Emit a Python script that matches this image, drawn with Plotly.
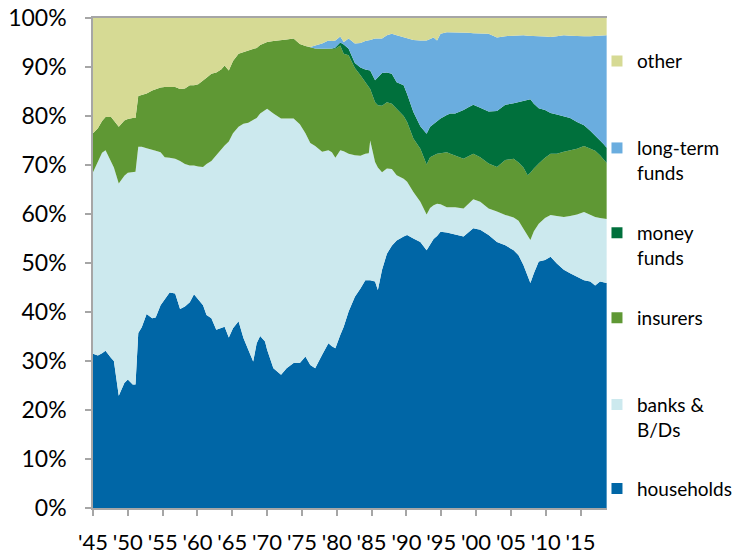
import plotly.graph_objects as go
import numpy as np

# Quarter-ish sample points (year fractions)
years = [1945.0, 1945.7, 1946.3, 1946.8, 1947.6, 1948.0, 1948.7, 1949.5, 1950.0, 1950.7,
         1951.1, 1951.5, 1952.0, 1952.7, 1953.5, 1954.0, 1954.7, 1955.3, 1956.0, 1956.8,
         1957.5, 1958.2, 1958.9, 1959.5, 1960.1, 1960.8, 1961.3, 1962.0, 1962.7, 1963.4,
         1963.9, 1964.5, 1965.1, 1965.9, 1966.6, 1967.3, 1968.0, 1968.5, 1969.0, 1969.7,
         1970.0, 1970.9, 1972.0, 1972.8, 1973.8, 1974.7, 1975.5, 1976.2, 1976.9, 1977.9,
         1978.8, 1979.3, 1979.8, 1980.5, 1981.0, 1981.7, 1982.6, 1983.4, 1984.1, 1984.6,
         1984.8, 1985.5, 1985.9, 1986.5, 1987.2, 1987.9, 1988.6, 1989.6, 1990.1, 1991.0,
         1992.0, 1992.9, 1993.4, 1993.9, 1994.4, 1994.9, 1995.8, 1996.3, 1997.0, 1998.2,
         1998.9, 1999.6, 2000.6, 2001.8, 2003.0, 2004.2, 2005.4, 2006.1, 2006.8, 2007.4,
         2007.8, 2008.3, 2009.0, 2009.9, 2010.7, 2011.6, 2012.6, 2013.5, 2014.5, 2015.5,
         2016.4, 2017.1, 2017.8, 2018.3, 2018.75]

# Upper edge (cumulative %) of each band, bottom to top
households_top = [31.5, 31.1, 31.6, 32.1, 30.6, 30.0, 22.9, 25.5, 26.2, 25.2,
                  25.2, 35.7, 36.9, 39.6, 38.7, 38.9, 41.4, 42.5, 44.0, 43.8,
                  40.6, 41.1, 42.0, 43.6, 42.5, 41.4, 39.4, 38.7, 36.4, 36.7,
                  37.0, 34.8, 36.7, 38.1, 34.7, 32.3, 29.9, 33.6, 35.1, 34.0,
                  32.3, 28.5, 27.2, 28.5, 29.6, 29.6, 30.9, 29.2, 28.5, 31.3,
                  33.6, 33.0, 32.6, 35.3, 37.0, 40.1, 43.1, 44.8, 46.5, 46.5,
                  46.5, 46.2, 44.5, 48.6, 51.9, 53.5, 54.6, 55.4, 55.7, 55.0,
                  54.3, 52.6, 53.8, 54.9, 55.5, 56.4, 56.2, 56.0, 55.8, 55.4,
                  56.3, 57.1, 56.8, 55.7, 54.3, 53.6, 52.6, 51.6, 49.6, 47.2,
                  45.9, 47.9, 50.3, 50.6, 51.3, 49.9, 48.6, 47.9, 47.2, 46.5,
                  46.2, 45.4, 46.2, 46.0, 45.9]

banks_top = [68.5, 70.5, 72.5, 73.0, 70.6, 69.5, 66.2, 67.8, 68.4, 68.6,
             68.6, 73.7, 73.7, 73.4, 73.0, 72.9, 72.6, 71.6, 71.5, 71.3,
             70.8, 70.2, 69.9, 69.9, 69.7, 69.6, 70.2, 70.8, 72.0, 73.3,
             74.0, 74.8, 76.5, 77.8, 78.4, 78.6, 79.1, 79.6, 80.5, 81.2,
             81.5, 80.5, 79.5, 79.5, 79.5, 78.3, 76.5, 74.5, 73.9, 72.7,
             73.0, 72.6, 71.5, 73.0, 72.8, 72.3, 72.0, 71.9, 72.3, 72.4,
             75.0, 70.6, 69.5, 68.5, 69.3, 69.2, 67.9, 67.2, 66.6, 64.5,
             62.5, 59.9, 61.2, 61.8, 62.1, 62.0, 61.4, 61.4, 61.4, 61.1,
             62.0, 63.0, 62.5, 61.1, 60.5, 59.8, 59.3, 58.6, 57.0, 55.6,
             54.7, 56.5, 58.0, 59.2, 59.8, 59.6, 59.4, 59.6, 59.9, 60.4,
             59.8, 59.4, 59.2, 59.1, 59.0]

insurers_top = [76.5, 77.5, 79.0, 79.8, 79.8, 79.0, 77.8, 79.1, 79.4, 79.6,
                79.6, 84.1, 84.3, 84.6, 85.2, 85.5, 85.8, 85.9, 85.9, 85.9,
                85.5, 85.6, 86.3, 86.3, 86.5, 87.2, 87.8, 88.6, 88.9, 89.5,
                90.3, 89.3, 91.2, 92.7, 93.0, 93.4, 93.6, 93.9, 94.5, 95.0,
                95.1, 95.3, 95.4, 95.6, 95.8, 94.7, 94.3, 94.1, 93.8, 93.7,
                93.7, 93.7, 93.7, 94.4, 92.7, 92.4, 89.8, 88.3, 87.0, 86.0,
                85.5, 82.8, 82.2, 82.1, 82.8, 82.5, 81.5, 80.0, 78.8, 75.4,
                73.3, 70.1, 71.6, 72.0, 72.3, 72.4, 72.6, 72.3, 71.9, 71.3,
                71.8, 72.3, 71.6, 70.3, 69.6, 71.0, 71.3, 70.5, 69.5, 67.9,
                68.4, 69.3, 70.3, 71.5, 72.3, 72.3, 72.7, 73.0, 73.3, 73.9,
                73.4, 72.9, 72.0, 71.2, 70.4]

money_funds_top = [76.5, 77.5, 79.0, 79.8, 79.8, 79.0, 77.8, 79.1, 79.4, 79.6,
                   79.6, 84.1, 84.3, 84.6, 85.2, 85.5, 85.8, 85.9, 85.9, 85.9,
                   85.5, 85.6, 86.3, 86.3, 86.5, 87.2, 87.8, 88.6, 88.9, 89.5,
                   90.3, 89.3, 91.2, 92.7, 93.0, 93.4, 93.6, 93.9, 94.5, 95.0,
                   95.1, 95.3, 95.4, 95.6, 95.8, 94.7, 94.3, 94.1, 93.8, 93.7,
                   93.7, 93.8, 94.0, 95.0, 94.6, 93.7, 90.8, 89.9, 89.5, 89.3,
                   89.3, 87.3, 87.9, 88.8, 88.9, 88.6, 86.9, 86.3, 84.5, 80.8,
                   77.9, 76.4, 77.8, 78.4, 78.9, 79.5, 80.2, 80.5, 80.5, 81.2,
                   81.8, 82.3, 81.7, 80.9, 81.0, 82.3, 82.6, 82.8, 83.0, 83.2,
                   83.4, 82.5, 81.6, 81.2, 80.6, 80.3, 80.0, 79.6, 78.8, 78.1,
                   77.0, 76.1, 75.0, 74.3, 73.5]

long_term_top = [76.5, 77.5, 79.0, 79.8, 79.8, 79.0, 77.8, 79.1, 79.4, 79.6,
                 79.6, 84.1, 84.3, 84.6, 85.2, 85.5, 85.8, 85.9, 85.9, 85.9,
                 85.5, 85.6, 86.3, 86.3, 86.5, 87.2, 87.8, 88.6, 88.9, 89.5,
                 90.3, 89.3, 91.2, 92.7, 93.0, 93.4, 93.6, 93.9, 94.5, 95.0,
                 95.1, 95.3, 95.4, 95.6, 95.8, 94.7, 94.3, 94.1, 94.4, 94.8,
                 95.4, 95.3, 95.4, 96.2, 95.1, 95.8, 94.8, 94.9, 95.3, 95.4,
                 95.5, 95.8, 95.8, 95.8, 96.5, 96.8, 96.5, 96.1, 95.8, 95.5,
                 95.4, 95.4, 95.7, 96.0, 95.4, 96.8, 97.1, 97.1, 97.1, 97.1,
                 97.0, 96.9, 96.8, 96.8, 96.0, 96.3, 96.4, 96.5, 96.5, 96.4,
                 96.4, 96.4, 96.3, 96.2, 96.1, 96.3, 96.5, 96.4, 96.3, 96.3,
                 96.3, 96.4, 96.5, 96.5, 96.5]

tick_years = [1945, 1950, 1955, 1960, 1965, 1970, 1975, 1980, 1985, 1990, 1995, 2000, 2005, 2010, 2015]
tick_labels = ["'45", "'50", "'55", "'60", "'65", "'70", "'75", "'80", "'85", "'90",
               "'95", "'00", "'05", "'10", "'15"]
pct_ticks = [0, 10, 20, 30, 40, 50, 60, 70, 80, 90, 100]
pct_labels = ['0%', '10%', '20%', '30%', '40%', '50%', '60%', '70%', '80%', '90%', '100%']

names = ['households', 'banks &<br>B/Ds', 'insurers', 'money<br>funds', 'long-term<br>funds', 'other']
colors = ['#0066A6', '#CCE9EE', '#5F9834', '#00703C', '#6AADDF', '#D6DA94']

# band thickness = difference between consecutive edges (top band closes at 100%)
edges = np.vstack([households_top, banks_top, insurers_top, money_funds_top, long_term_top])
edges = np.vstack([np.zeros(len(years)), edges, np.full(len(years), 100.0)])
shares = np.diff(edges, axis=0)

fig = go.Figure()

for i in range(6):
    fig.add_trace(go.Scatter(
        x=years, y=shares[i],
        mode='lines', stackgroup='one',
        line=dict(width=0, color=colors[i]),
        fillcolor=colors[i],
        showlegend=False,
        hoverinfo='skip'
    ))

# one legend per entry so the spacing can follow the original
legend_y = [0.0397, 0.1854, 0.3881, 0.5359, 0.7090, 0.9118]
legend_keys = ['legend', 'legend2', 'legend3', 'legend4', 'legend5', 'legend6']
for i in range(6):
    fig.add_trace(go.Scatter(
        x=[None], y=[None], mode='markers',
        marker=dict(symbol='square', size=11, color=colors[i]),
        name=names[i], legend=legend_keys[i]
    ))

legend_style = dict(x=0.9805, xanchor='left', yanchor='middle', valign='top',
                    bgcolor='rgba(0,0,0,0)', borderwidth=0,
                    font=dict(family='Lato', size=19, color='#000000'))
layout_legends = {}
for key, ly in zip(legend_keys, legend_y):
    layout_legends[key] = dict(legend_style, y=ly)

axis_grey = '#A6A6A6'

fig.update_layout(
    width=755, height=556,
    margin=dict(l=93, r=148, t=18, b=48, autoexpand=False),
    plot_bgcolor='white', paper_bgcolor='white',
    font=dict(family='Lato', color='#000000'),
    xaxis=dict(
        range=[1945, 2018.8],
        tickmode='array', tickvals=tick_years, ticktext=tick_labels,
        ticks='outside', ticklen=6, tickwidth=1.5, tickcolor=axis_grey,
        showline=True, linecolor=axis_grey, linewidth=1.5, mirror=True,
        showgrid=False, zeroline=False,
        tickfont=dict(size=22), ticklabelstandoff=8, ticklabeloverflow='allow'
    ),
    yaxis=dict(
        range=[0, 100],
        tickmode='array', tickvals=pct_ticks, ticktext=pct_labels,
        ticks='outside', ticklen=6, tickwidth=1.5, tickcolor=axis_grey,
        showline=True, linecolor=axis_grey, linewidth=1.5,
        showgrid=False, zeroline=False,
        tickfont=dict(size=23), ticklabelstandoff=14, ticklabeloverflow='allow'
    ),
    **layout_legends
)

# drop the default 8px body margin so the figure sits at the page corner
fig.write_html("out.html", config={'displayModeBar': False},
               post_script="document.body.style.margin = '0';")
